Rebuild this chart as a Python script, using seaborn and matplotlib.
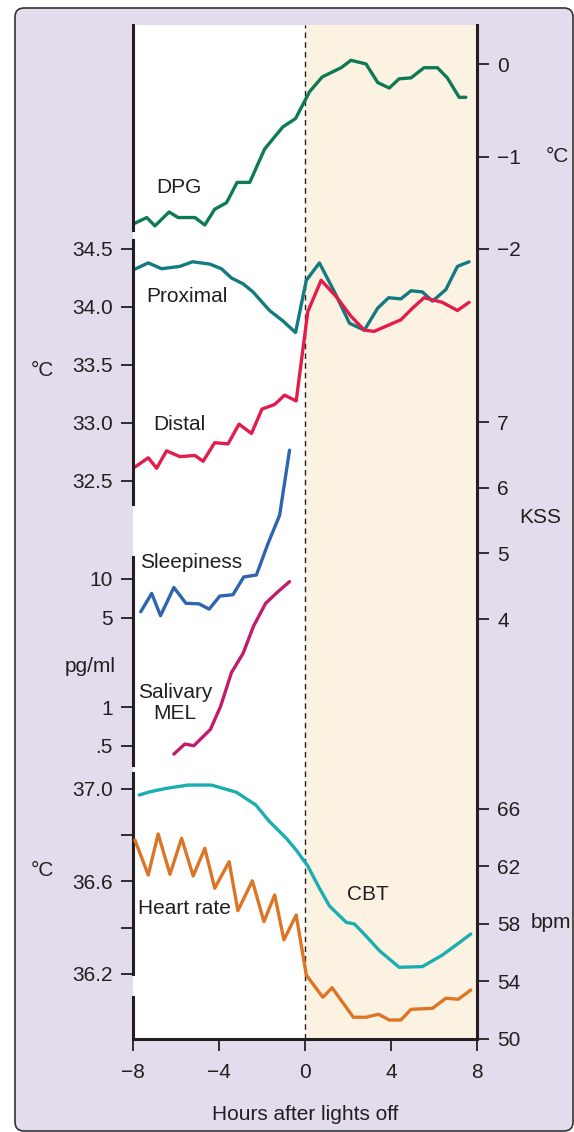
import numpy as np
import matplotlib.pyplot as plt
import seaborn as sns
from matplotlib.patches import FancyBboxPatch
from matplotlib.transforms import IdentityTransform
from matplotlib.ticker import NullLocator

# values (hours after lights off)
dpg_hours = [-7.99, -7.36, -6.98, -6.32, -5.90, -5.12, -4.66, -4.20, -3.65, -3.16, -2.57, -1.88, -1.03, -0.44,
             0.21, 0.80, 1.68, 2.14, 2.84, 3.38, 3.92, 4.38, 4.93, 5.54, 6.16, 6.62, 7.17, 7.48]
dpg_vals = [-1.73, -1.66, -1.75, -1.60, -1.66, -1.66, -1.74, -1.57, -1.50, -1.28, -1.28, -0.92, -0.68, -0.59,
            -0.30, -0.14, -0.04, 0.04, 0.00, -0.20, -0.26, -0.16, -0.15, -0.04, -0.04, -0.15, -0.36, -0.36]

prox_hours = [-7.99, -7.29, -6.67, -5.82, -5.23, -4.43, -3.89, -3.42, -2.88, -2.42, -1.65, -1.03, -0.44,
              0.06, 0.67, 1.37, 2.07, 2.76, 3.38, 3.89, 4.46, 4.93, 5.46, 5.93, 6.55, 7.09, 7.63]
prox_vals = [34.32, 34.38, 34.33, 34.35, 34.39, 34.37, 34.33, 34.25, 34.20, 34.13, 33.97, 33.88, 33.78,
             34.23, 34.38, 34.13, 33.86, 33.80, 33.99, 34.08, 34.07, 34.14, 34.13, 34.05, 34.15, 34.35, 34.39]

dist_hours = [-7.99, -7.29, -6.90, -6.44, -5.82, -5.12, -4.74, -4.20, -3.58, -3.07, -2.49, -2.00, -1.41, -0.95,
              -0.41, 0.13, 0.75, 1.45, 2.14, 2.76, 3.22, 3.84, 4.46, 5.00, 5.54, 6.39, 7.09, 7.63]
dist_vals = [32.61, 32.70, 32.61, 32.76, 32.71, 32.72, 32.67, 32.83, 32.82, 32.99, 32.91, 33.12, 33.16, 33.24,
             33.19, 33.96, 34.23, 34.09, 33.92, 33.80, 33.79, 33.84, 33.89, 33.99, 34.08, 34.04, 33.97, 34.04]

kss_hours = [-7.64, -7.13, -6.72, -6.10, -5.54, -4.92, -4.46, -3.96, -3.35, -2.85, -2.26, -1.72, -1.18, -0.72]
kss_vals = [4.11, 4.39, 4.05, 4.48, 4.24, 4.23, 4.15, 4.35, 4.37, 4.64, 4.67, 5.15, 5.58, 6.57]

mel_hours = [-6.10, -5.59, -5.17, -4.40, -3.93, -3.42, -2.88, -2.39, -1.83, -1.26, -0.72]
mel_vals = [0.43, 0.515, 0.50, 0.67, 1.01, 1.86, 2.63, 4.30, 6.46, 7.96, 9.53]

cbt_hours = [-7.71, -7.21, -6.44, -5.44, -4.35, -3.19, -2.29, -1.65, -0.87, -0.41, 0.13, 0.67, 1.14, 1.91,
             2.30, 2.84, 3.46, 4.38, 5.46, 6.39, 7.17, 7.71]
cbt_vals = [36.974, 36.988, 37.003, 37.017, 37.017, 36.986, 36.931, 36.859, 36.787, 36.736, 36.667, 36.571,
            36.494, 36.424, 36.416, 36.364, 36.301, 36.229, 36.232, 36.282, 36.335, 36.373]

hr_hours = [-7.91, -7.29, -6.83, -6.28, -5.74, -5.20, -4.66, -4.20, -3.53, -3.12, -2.45, -1.91, -1.41, -0.98,
            -0.41, 0.06, 0.83, 1.26, 2.25, 2.84, 3.42, 3.92, 4.46, 4.93, 5.93, 6.55, 7.13, 7.71]
hr_vals = [63.82, 61.39, 64.24, 61.44, 63.94, 61.32, 63.24, 60.47, 62.31, 58.91, 60.99, 58.15, 60.00, 56.88,
           58.61, 54.44, 52.90, 53.56, 51.51, 51.51, 51.72, 51.32, 51.32, 52.06, 52.13, 52.83, 52.76, 53.40]

x_ticks = [-8, -4, 0, 4, 8]
x_labels = ['\u22128', '\u22124', '0', '4', '8']
dpg_ticks, dpg_labels = [0, -1, -2], ['0', '\u22121', '\u22122']
skin_ticks, skin_labels = [34.5, 34.0, 33.5, 33.0, 32.5], ['34.5', '34.0', '33.5', '33.0', '32.5']
kss_ticks, kss_labels = [7, 6, 5, 4], ['7', '6', '5', '4']
mel_ticks, mel_labels = [10, 5, 1, 0.5], ['10', '5', '1', '.5']
cbt_ticks, cbt_labels = [37.0, 36.8, 36.6, 36.4, 36.2], ['37.0', '', '36.6', '', '36.2']
hr_ticks, hr_labels = [66, 62, 58, 54, 50], ['66', '62', '58', '54', '50']

sns.set_theme(style="white")
plt.rcParams['font.family'] = ['Liberation Sans', 'DejaVu Sans']

INK = '#231f20'
W, H = 574, 1132
TOP, BOT = 25, 1039
rect = [133 / W, (H - BOT) / H, 344 / W, (BOT - TOP) / H]

fig = plt.figure(figsize=(W / 100, H / 100), dpi=100, facecolor='white')
frame = FancyBboxPatch((15, 1), 558, H - 9, boxstyle='round,pad=0,rounding_size=9',
                       transform=IdentityTransform(), facecolor='#e4dcec',
                       edgecolor='#333333', linewidth=1.2, figure=fig, zorder=-10)
fig.patches.append(frame)

tick_kw = dict(length=8.6, width=1.3, color=INK, pad=6, labelsize=15, labelcolor=INK, direction='out')

# base layer: night shading, dashed lights-off line, shared x axis
base = fig.add_axes(rect)
base.set_xlim(-8, 8)
base.set_ylim(0, 1)
base.axvspan(-8, 0, color='white', lw=0)
base.axvspan(0, 8, color='#fcf2e2', lw=0)
base.axvline(0, color=INK, lw=1.0, ls=(0, (4, 3)))
for side in ['top', 'left']:
    base.spines[side].set_visible(False)
for side in ['bottom', 'right']:
    base.spines[side].set_visible(True)
    base.spines[side].set_linewidth(2.2)
    base.spines[side].set_color(INK)
base.set_yticks([])
base.set_xticks(x_ticks, x_labels)
base.tick_params(axis='x', bottom=True, **{**tick_kw, 'pad': 9})
base.set_xlabel('Hours after lights off', fontsize=15, color=INK, labelpad=16)


def to_val(py, ref1, ref2, log=False):
    (v1, p1), (v2, p2) = ref1, ref2
    if log:
        v1, v2 = np.log10(v1), np.log10(v2)
    v = v1 + (py - p1) * (v2 - v1) / (p2 - p1)
    return 10 ** v if log else v


def panel(ref1, ref2, log=False):
    ax = fig.add_axes(rect, facecolor='none')
    if log:
        ax.set_yscale('log')
    ax._refs = (ref1, ref2, log)
    return ax


def finish(ax, ticks, labels, side, spine=None):
    ref1, ref2, log = ax._refs
    ax.set(xlabel='', ylabel='')
    ax.set_xlim(-8, 8)
    ax.set_ylim(to_val(BOT, ref1, ref2, log), to_val(TOP, ref1, ref2, log))
    ax.set_xticks([])
    ax.set_yticks(ticks, labels)
    ax.yaxis.set_minor_locator(NullLocator())
    for s in ax.spines.values():
        s.set_visible(False)
    if side == 'right':
        ax.yaxis.tick_right()
    ax.tick_params(axis='y', left=(side == 'left'), right=(side == 'right'),
                   labelleft=(side == 'left'), labelright=(side == 'right'), **tick_kw)
    if spine is not None:
        sp = ax.spines['left']
        sp.set_visible(True)
        sp.set_linewidth(2.2)
        sp.set_color(INK)
        sp.set_bounds(to_val(spine[1], ref1, ref2, log), to_val(spine[0], ref1, ref2, log))


lw = 2.4
ax_dpg = panel((0, 64), (-2, 249))
sns.lineplot(x=dpg_hours, y=dpg_vals, ax=ax_dpg, color='#0d7a55', linewidth=lw, sort=False)
finish(ax_dpg, dpg_ticks, dpg_labels, 'right', spine=(TOP, 230))

ax_skin = panel((34.5, 249), (32.5, 481))
sns.lineplot(x=prox_hours, y=prox_vals, ax=ax_skin, color='#127a80', linewidth=lw, sort=False)
sns.lineplot(x=dist_hours, y=dist_vals, ax=ax_skin, color='#e21c4c', linewidth=lw, sort=False)
finish(ax_skin, skin_ticks, skin_labels, 'left', spine=(240, 504))

ax_kss = panel((7, 422), (4, 619))
sns.lineplot(x=kss_hours, y=kss_vals, ax=ax_kss, color='#2f64b1', linewidth=lw, sort=False)
finish(ax_kss, kss_ticks, kss_labels, 'right')

ax_mel = panel((10, 579), (0.5, 745.7), log=True)
sns.lineplot(x=mel_hours, y=mel_vals, ax=ax_mel, color='#c11c6c', linewidth=lw, sort=False)
finish(ax_mel, mel_ticks, mel_labels, 'left', spine=(557, 765))

ax_cbt = panel((37.0, 789), (36.2, 974))
sns.lineplot(x=cbt_hours, y=cbt_vals, ax=ax_cbt, color='#1aaeb2', linewidth=lw, sort=False)
finish(ax_cbt, cbt_ticks, cbt_labels, 'left', spine=(773, 974))

ax_hr = panel((66, 808.6), (50, 1039))
sns.lineplot(x=hr_hours, y=hr_vals, ax=ax_hr, color='#dd7526', linewidth=lw, sort=False)
finish(ax_hr, hr_ticks, hr_labels, 'right', spine=(997, BOT))


def label(x, y, s, **kw):
    fig.text(x / W, 1 - y / H, s, ha='center', va='center', fontsize=15, color=INK, **kw)


label(179, 187, 'DPG')
label(187, 297, 'Proximal')
label(179, 424, 'Distal')
label(191, 563, 'Sleepiness')
label(175, 703, 'Salivary\nMEL', linespacing=1.1)
label(184, 908, 'Heart rate')
label(368, 894, 'CBT')
label(42, 370, '°C')
label(90, 666, 'pg/ml')
label(42, 870, '°C')
label(557, 157, '°C')
label(540, 518, 'KSS')
label(551, 922, 'bpm')

fig.savefig('out.png', dpi=100, facecolor='white')
